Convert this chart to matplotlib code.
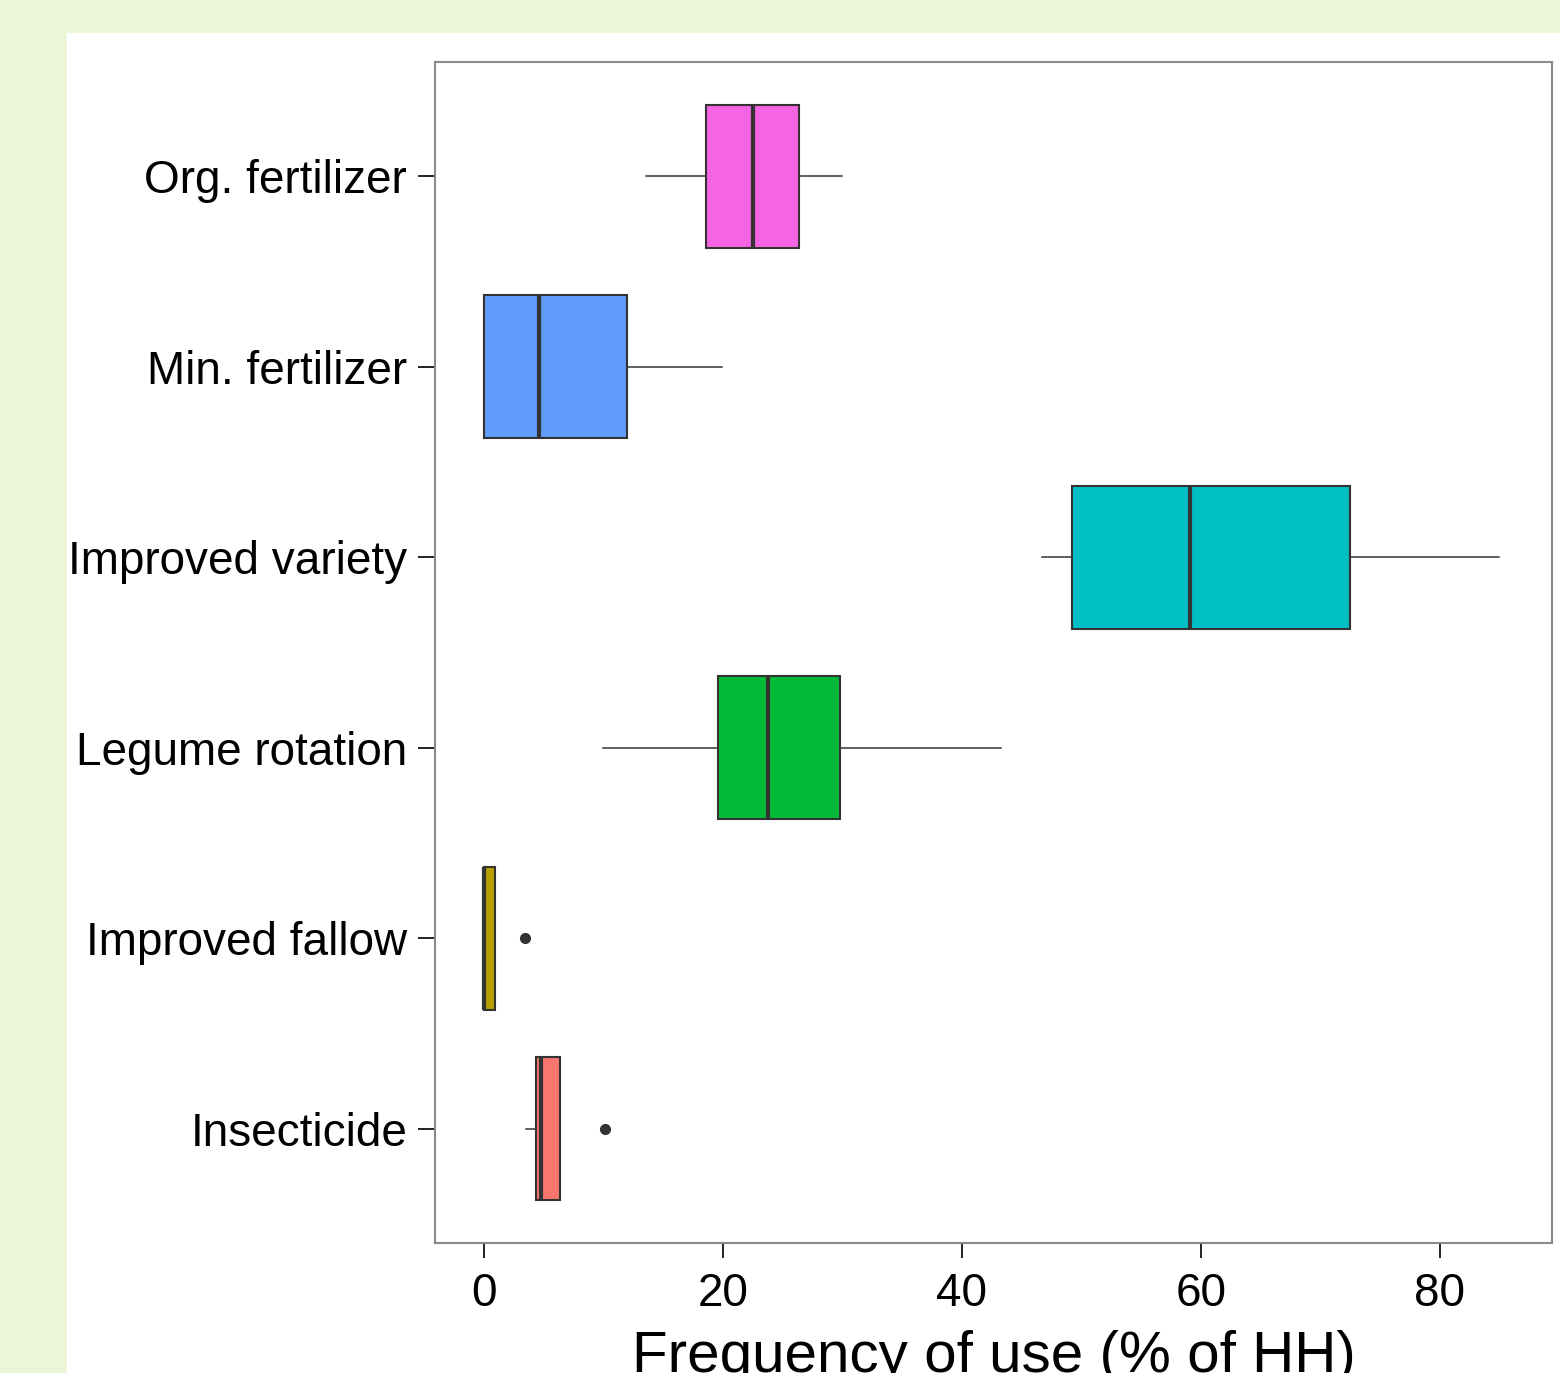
import matplotlib.pyplot as plt
from matplotlib.patches import Rectangle

plt.rcParams['font.family'] = ['Liberation Sans', 'DejaVu Sans']

# categories, top to bottom
practices = ["Org. fertilizer", "Min. fertilizer", "Improved variety",
             "Legume rotation", "Improved fallow", "Insecticide"]
colors = ["#F564E3", "#619CFF", "#00BFC4", "#00BA38", "#B79F00", "#F8766D"]

# box stats (% of HH)
whis_lo = [13.6, 0.0, 46.7, 10.0, 0.0, 3.5]
q1 = [18.6, 0.0, 49.2, 19.6, 0.0, 4.35]
median = [22.5, 4.6, 59.1, 23.8, 0.0, 4.8]
q3 = [26.4, 12.0, 72.5, 29.8, 0.95, 6.4]
whis_hi = [30.0, 19.9, 85.0, 43.3, 0.95, 6.4]
outliers = [[], [], [], [], [3.45], [10.1]]

stats = []
for i in range(len(practices)):
    stats.append({"label": practices[i], "whislo": whis_lo[i], "q1": q1[i],
                  "med": median[i], "q3": q3[i], "whishi": whis_hi[i],
                  "fliers": outliers[i]})

fig = plt.figure(figsize=(15.6, 13.73), dpi=100)
fig.patch.set_facecolor("#EBF6D6")
# white panel behind the plot
fig.patches.append(Rectangle((67 / 1560, 0), 1, 1 - 33 / 1373,
                             transform=fig.transFigure, facecolor="white",
                             edgecolor="none", zorder=-5))

ax = fig.add_axes([435 / 1560, 130 / 1373, 1117 / 1560, 1181 / 1373])
ax.set_facecolor("white")

bp = ax.bxp(stats, positions=range(len(practices)), vert=False, widths=0.75,
            patch_artist=True, showcaps=False,
            boxprops=dict(edgecolor="#333333", linewidth=1.5),
            medianprops=dict(color="#333333", linewidth=3),
            whiskerprops=dict(color="#333333", linewidth=1.1),
            flierprops=dict(marker="o", markerfacecolor="#333333",
                            markeredgecolor="#333333", markersize=7))
for patch, c in zip(bp["boxes"], colors):
    patch.set_facecolor(c)

ax.set_ylim(5.6, -0.6)
ax.set_xlim(-4.1, 89.4)
ax.set_xticks([0, 20, 40, 60, 80])
ax.set_yticks(range(len(practices)))
ax.set_yticklabels(practices)

ax.tick_params(axis="y", length=12, width=1.4, color="#222222", pad=8,
               labelsize=33, labelcolor="black")
ax.tick_params(axis="x", length=11, width=1.4, color="#222222", pad=10,
               labelsize=33, labelcolor="black")
for s in ax.spines.values():
    s.set_color("#8a8a8a")
    s.set_linewidth(1.5)

ax.set_xlabel("Frequency of use (% of HH)", fontsize=42, labelpad=10)

fig.savefig("out.png", dpi=100, facecolor=fig.get_facecolor())
